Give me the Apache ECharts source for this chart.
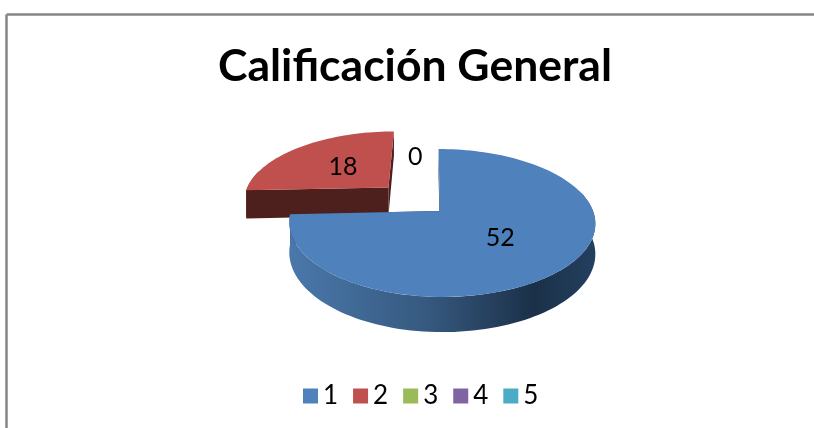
<!DOCTYPE html>
<html><head><meta charset="utf-8">
<style>html,body{margin:0;padding:0;background:#fff}#c{width:814px;height:428px}</style>
<script src="https://cdn.jsdelivr.net/npm/echarts@6/dist/echarts.min.js"></script>
</head><body><div id="c"></div>
<script>
const titleText = 'Calificación General';
const categories = ['1', '2', '3', '4', '5'];
const values = [52, 18, 0, null, null];
const explodeFractions = [0, 0.5, 0, 0, 0];
const palette = ['#4f81bd', '#c0504d', '#9bbb59', '#8064a2', '#4bacc6'];

const FONT = 'Lato, Carlito, Calibri, sans-serif';
const view = {ax: 440, ay: 211, rxL: 149, rxR: 153, ry: 72, p: 0.162, skew: 1.7, depth: 29.5};
const total = values.reduce((a, b) => a + (b || 0), 0);

function project(u, v, down) {
  const s = 1 / (1 - view.p * v);
  const rx = u < 0 ? view.rxL : view.rxR;
  return [view.ax + rx * u * s + view.skew * v * s,
          view.ay + view.ry * v * s + (down ? view.depth * s : 0)];
}
function polar(deg, r, off) {
  const t = deg * Math.PI / 180;
  return [off[0] + r * Math.sin(t), off[1] - r * Math.cos(t)];
}
function arc(a0, a1, off, down) {
  const pts = [], n = Math.max(2, Math.ceil(Math.abs(a1 - a0) / 2));
  for (let i = 0; i <= n; i++) {
    const q = polar(a0 + (a1 - a0) * i / n, 1, off);
    pts.push(project(q[0], q[1], down));
  }
  return pts;
}
function poly(points, fill) {
  return {type: 'polygon', shape: {points}, style: {fill}};
}
function darkFace(a, off, fill) {
  const o = polar(a, 1, off);
  return poly([project(off[0], off[1]), project(o[0], o[1]),
               project(o[0], o[1], true), project(off[0], off[1], true)], fill);
}
const wallGradient = new echarts.graphic.LinearGradient(0, 0, 1, 0, [
  {offset: 0, color: '#4a78ab'}, {offset: 0.45, color: '#36597f'},
  {offset: 0.8, color: '#1b3048'}, {offset: 1, color: '#23405f'}
]);
const faceColors = ['#1f3350', '#4d1f1d', '#4d5c2b', '#3f3151', '#255563'];

function makeRender(idx) {
  return function (params, api) {
    const value = api.value(0);
    if (value == null || isNaN(value)) return {type: 'group', children: []};
    let before = 0;
    for (let i = 0; i < idx; i++) before += values[i] || 0;
    const a0 = before / total * 360, a1 = (before + value) / total * 360;
    const mid = (a0 + a1) / 2;
    const e = explodeFractions[idx];
    const off = polar(mid, e, [0, 0]);
    const children = [];
    if (value > 0) {
      children.push(darkFace(a0, off, faceColors[idx]));
      children.push(darkFace(a1, off, faceColors[idx]));
      const w0 = Math.max(a0, 75), w1 = Math.min(a1, 285);
      if (w1 > w0) {
        children.push(poly(arc(w0, w1, off, false).concat(arc(w0, w1, off, true).reverse()),
          idx === 0 ? wallGradient : faceColors[idx]));
      }
      children.push(poly([project(off[0], off[1])].concat(arc(a0, a1, off, false)), palette[idx]));
    }
    const lp = value > 0 ? polar(mid, 0.5, off) : polar(-12, 0.9, [0, 0]);
    const xy = project(lp[0], lp[1]);
    children.push({type: 'text', z2: 10, style: {
      text: String(value), x: xy[0] + 1, y: xy[1] + 1, align: 'center', verticalAlign: 'middle',
      fill: '#000', font: '25px ' + FONT}});
    return {type: 'group', children};
  };
}

const chart = echarts.init(document.getElementById('c'), null, {renderer: 'canvas'});
chart.setOption({
  animation: false,
  color: palette,
  title: {text: titleText, left: 213, top: 39, textStyle: {fontFamily: FONT, fontWeight: 'bold', fontSize: 44.5, color: '#000'}},
  legend: {
    left: 298, top: 378, icon: 'rect', itemWidth: 15, itemHeight: 15, itemGap: 15, selectedMode: false,
    data: categories, textStyle: {fontFamily: FONT, fontSize: 26, color: '#000'}
  },
  graphic: [
    {type: 'line', shape: {x1: 6.5, y1: 14.5, x2: 814, y2: 14.5}, style: {stroke: '#868686', lineWidth: 2.5}},
    {type: 'line', shape: {x1: 6.5, y1: 14.5, x2: 6.5, y2: 428}, style: {stroke: '#868686', lineWidth: 2.5}}
  ],
  series: categories.map((name, i) => ({
    type: 'custom', name, coordinateSystem: 'none', z: i === 0 ? 3 : 2,
    itemStyle: {color: palette[i]},
    data: [[values[i]]],
    renderItem: makeRender(i)
  }))
});
</script></body></html>
